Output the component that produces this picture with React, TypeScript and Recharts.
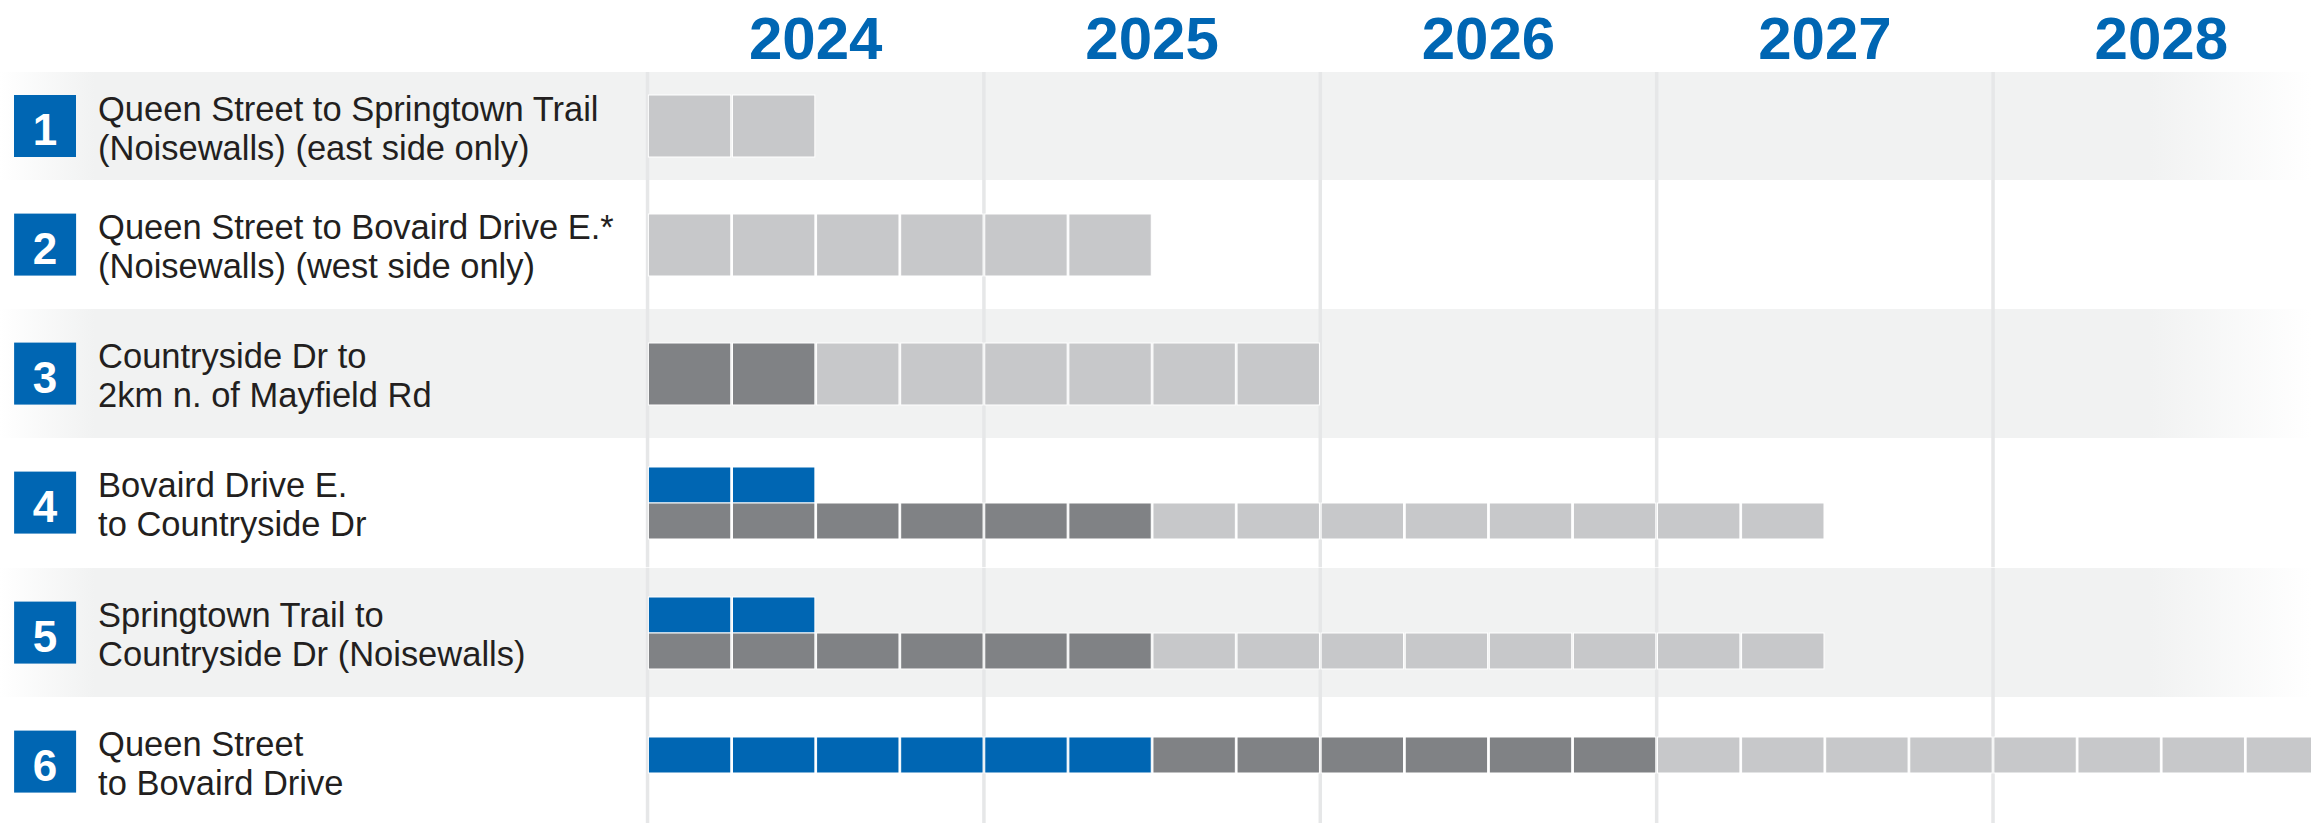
import React from 'react';
import { BarChart, Bar, XAxis, YAxis, CartesianGrid } from 'recharts';

// ---------- data ----------
const years = ['2024', '2025', '2026', '2027', '2028'];
const quartersPerYear = 4;
const projectIds = ['1', '2', '3', '4', '5', '6'];
const titleLine1 = [
  'Queen Street to Springtown Trail',
  'Queen Street to Bovaird Drive E.*',
  'Countryside Dr to',
  'Bovaird Drive E.',
  'Springtown Trail to',
  'Queen Street',
];
const titleLine2 = [
  '(Noisewalls) (east side only)',
  '(Noisewalls) (west side only)',
  '2km n. of Mayfield Rd',
  'to Countryside Dr',
  'Countryside Dr (Noisewalls)',
  'to Bovaird Drive',
];
// durations in quarters, all starting Q1 2024
const blueTopLaneQuarters = [0, 0, 0, 2, 2, 0];
const blueQuarters = [0, 0, 0, 0, 0, 6];
const darkQuarters = [0, 0, 2, 6, 6, 6];
const lightQuarters = [2, 6, 6, 8, 8, 8];

// ---------- style ----------
const BLUE = '#0066b3';
const DARK = '#808285';
const LIGHT = '#c7c8ca';
const BAND = '#f1f2f2';
const GRID = '#e6e7e8';
const TEXT = '#231f20';
const LABEL_FONT = "'Liberation Sans', Arial, sans-serif";

const PAGE_W = 2311;
const PAGE_H = 823;
const CHART_W = 2340;
const LABEL_W = 647.5;
const RIGHT_M = 10.5;
const HEADER_H = 72;
const FIRST_ROW_H = 108;
const ROW_H = 129.2;
const TALL = 62;
const THIN = 36;
const SINGLE_THIN_SHIFT = -7;

const totalQuarters = years.length * quartersPerYear;
const yearBoundaryTicks = years.map((_, i) => i * quartersPerYear);
const yearCenterTicks = years.map((_, i) => i * quartersPerYear + quartersPerYear / 2);

const bandGradient = `linear-gradient(to right, #ffffff 0px, ${BAND} 95px, ${BAND} 2150px, #ffffff ${PAGE_W}px)`;

const makeCells = (key: string, dy: number) => (props: any) => {
  const { x, y, width, height, fill, payload } = props;
  const n = payload ? payload[key] : 0;
  if (!n || !width || width <= 0) return <g />;
  const cw = width / n;
  return (
    <g>
      {Array.from({ length: n }, (_, k) => (
        <rect
          key={k}
          x={x + k * cw + 0.85}
          y={y + dy}
          width={cw - 1.7}
          height={height}
          fill={fill}
          stroke="#ffffff"
          strokeWidth={1}
        />
      ))}
    </g>
  );
};

const YearTick = (props: any) => {
  const { x, y, payload } = props;
  const i = yearCenterTicks.indexOf(payload.value);
  return (
    <text
      x={x}
      y={y - 13}
      textAnchor="middle"
      fill={BLUE}
      fontFamily="'Liberation Sans', Arial, sans-serif"
      fontWeight={700}
      fontSize={60}
    >
      {years[i]}
    </text>
  );
};

const ProjectTick = (props: any) => {
  const { y, payload } = props;
  const i = projectIds.indexOf(String(payload.value));
  return (
    <g>
      <rect x={14} y={y - 31} width={62} height={62} fill={BLUE} />
      <text
        x={45}
        y={y + 19}
        textAnchor="middle"
        fill="#ffffff"
        fontFamily="'Liberation Sans', Arial, sans-serif"
        fontWeight={700}
        fontSize={44}
      >
        {projectIds[i]}
      </text>
      <text x={98} y={y - 5.5} fill={TEXT} fontFamily={LABEL_FONT} fontWeight={400} fontSize={34.5}>
        {titleLine1[i]}
      </text>
      <text x={98} y={y + 33.5} fill={TEXT} fontFamily={LABEL_FONT} fontWeight={400} fontSize={34.5}>
        {titleLine2[i]}
      </text>
    </g>
  );
};

function RowChart({ index }: { index: number }) {
  const showYears = index === 0;
  const row = {
    id: projectIds[index],
    top: blueTopLaneQuarters[index],
    blue: blueQuarters[index],
    dark: darkQuarters[index],
    light: lightQuarters[index],
  };
  const hasTop = row.top > 0;
  const thinSingle = !hasTop && row.blue > 0;
  const laneSize = hasTop || row.blue > 0 ? THIN : TALL;
  const mainShift = thinSingle ? SINGLE_THIN_SHIFT : 0;
  const h = showYears ? HEADER_H + FIRST_ROW_H : ROW_H;
  const shaded = index % 2 === 0;
  const bg: React.CSSProperties = shaded
    ? showYears
      ? {
          backgroundImage: bandGradient,
          backgroundSize: `100% ${FIRST_ROW_H}px`,
          backgroundPosition: `0px ${HEADER_H}px`,
          backgroundRepeat: 'no-repeat',
        }
      : { backgroundImage: bandGradient }
    : { background: '#ffffff' };

  const mainSeries = [
    { key: 'blue', color: BLUE, v: row.blue },
    { key: 'dark', color: DARK, v: row.dark },
    { key: 'light', color: LIGHT, v: row.light },
  ].filter((s) => s.v > 0);

  return (
    <div style={{ width: PAGE_W, height: h, position: 'relative', ...bg }}>
      <BarChart
        width={CHART_W}
        height={h}
        data={[row]}
        layout="vertical"
        margin={{ top: 0, right: RIGHT_M, bottom: 0, left: 0 }}
        barGap={0}
        barCategoryGap={0}
      >
        <CartesianGrid
          xAxisId="grid"
          horizontal={false}
          vertical
          verticalValues={yearBoundaryTicks}
          stroke={GRID}
          strokeWidth={3.5}
        />
        <XAxis
          xAxisId="grid"
          type="number"
          domain={[0, totalQuarters]}
          ticks={yearBoundaryTicks}
          allowDataOverflow
          hide
        />
        {showYears && (
          <XAxis
            xAxisId="years"
            orientation="top"
            type="number"
            domain={[0, totalQuarters]}
            ticks={yearCenterTicks}
            allowDataOverflow
            interval={0}
            height={HEADER_H}
            axisLine={false}
            tickLine={false}
            tickSize={0}
            tickMargin={0}
            tick={<YearTick />}
          />
        )}
        <YAxis
          type="category"
          dataKey="id"
          width={LABEL_W}
          axisLine={false}
          tickLine={false}
          tick={<ProjectTick />}
        />
        {hasTop && (
          <Bar
            xAxisId="grid"
            dataKey="top"
            stackId="top"
            barSize={THIN}
            fill={BLUE}
            shape={makeCells('top', 0)}
            isAnimationActive={false}
          />
        )}
        {mainSeries.map((s) => (
          <Bar
            key={s.key}
            xAxisId="grid"
            dataKey={s.key}
            stackId="main"
            barSize={laneSize}
            fill={s.color}
            shape={makeCells(s.key, mainShift)}
            isAnimationActive={false}
          />
        ))}
      </BarChart>
    </div>
  );
}

export default function App() {
  return (
    <div
      style={{
        position: 'absolute',
        left: 0,
        top: 0,
        width: PAGE_W,
        height: PAGE_H,
        overflow: 'hidden',
        background: '#ffffff',
      }}
    >
      {projectIds.map((_, i) => (
        <RowChart key={i} index={i} />
      ))}
    </div>
  );
}
